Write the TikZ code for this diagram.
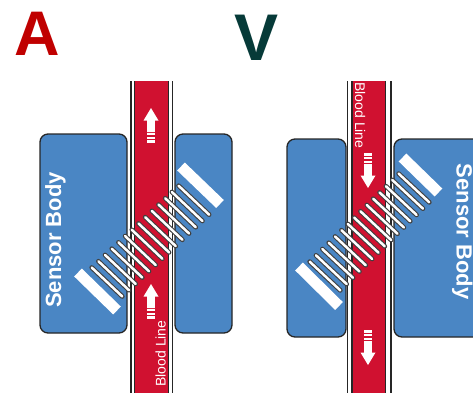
\documentclass[tikz,border=0pt]{standalone}
\usepackage{fontspec}
\setmainfont{Liberation Sans}
\definecolor{boxblue}{RGB}{74,134,196}
\definecolor{bloodred}{RGB}{208,17,48}
\definecolor{letterred}{RGB}{192,0,0}
\definecolor{letterteal}{RGB}{6,58,56}
\begin{document}
\begin{tikzpicture}[x=1pt,y=-1pt,
  box/.style={draw=black!85, line width=1.3pt, fill=boxblue, rounded corners=8pt},
  wall/.style={draw=black!85, line width=1.2pt},
  bar/.style={draw=white, line width=11pt},
  winding/.style={draw=black!75, line width=1.1pt, double=white, double distance=2.5pt, line cap=round},
  panel/.style={font=\bfseries\fontsize{63}{63}\selectfont, inner sep=0pt},
  bodylabel/.style={text=white, font=\bfseries\fontsize{22}{22}\selectfont, inner sep=0pt},
  linelabel/.style={text=white, font=\fontsize{14}{14}\selectfont, inner sep=0pt},
  flowarrow/.pic={
    \fill[white] (0,0) -- (7.5,12.5) -- (3.8,12.5) -- (3.8,24) -- (-3.8,24)
      -- (-3.8,12.5) -- (-7.5,12.5) -- cycle;
    \fill[white] (-3.8,25.3) rectangle (3.8,27.3);
    \fill[white] (-3.8,28.6) rectangle (3.8,30.6);
    \fill[white] (-3.8,31.9) rectangle (3.8,35);
  }]
\useasboundingbox (0,0) rectangle (473,392);
\clip (0,0) rectangle (473,392);

% panel letters
\node[panel, text=letterred, anchor=base] (letterA) at (37.5,55) {A};
\node[panel, text=letterteal, anchor=base, font=\bfseries\fontsize{66}{66}\selectfont] (letterV) at (256.5,60) {V};

% ---------- panel A ----------
\node[box, minimum width=87pt, minimum height=199pt] (bodyAL) at (83.5,233.5) {};
\node[box, minimum width=57pt, minimum height=199pt] (bodyAR) at (203.5,233.5) {};
% blood line tube
\fill[white] (131,81) rectangle (172.5,400);
\draw[wall] (131,81) -- (131,400) (172.5,81) -- (172.5,400);
\fill[bloodred] (134.5,81) rectangle (168.5,400);
\draw[wall] (134.5,81) -- (134.5,400) (168.5,81) -- (168.5,400);
\pic (flowA1) at (151,108) {flowarrow};
\pic (flowA2) at (151,284) {flowarrow};
\node[linelabel, rotate=90, anchor=base] (lineA) at (165.5,353.5) {Blood Line};
% transducer plates
\draw[bar] (78,272.5) -- (117,310.5);
\draw[bar] (181,166.5) -- (220,204);
% coil windings
\begin{scope}[shift={(107,282)}, rotate=43.3]
  \foreach \k in {0,...,13}
    \draw[winding] ({9.18*\k-1.2},-21) -- ({9.18*\k+1.2},21);
\end{scope}
\node[bodylabel, rotate=90, anchor=base] (sensorA) at (61,240) {Sensor Body};

% ---------- panel V ----------
\node[box, minimum width=59pt, minimum height=198pt] (bodyVL) at (316.5,238) {};
\node[box, minimum width=96pt, minimum height=198pt] (bodyVR) at (442,238) {};
\fill[white] (347.5,81) rectangle (391,400);
\draw[wall] (347.5,81) -- (347.5,400) (391,81) -- (391,400);
\fill[bloodred] (352,81) rectangle (385.5,400);
\draw[wall] (352,81) -- (352,400) (385.5,81) -- (385.5,400);
\pic[rotate=180] (flowV1) at (368,188) {flowarrow};
\pic[rotate=180] (flowV2) at (368,365) {flowarrow};
\node[linelabel, rotate=-90, anchor=base] (lineV) at (355,115.5) {Blood Line};
\draw[bar] (299,266.5) -- (339,306);
\draw[bar] (402.5,157.5) -- (438.5,192.5);
\begin{scope}[shift={(325,276)}, rotate=44.7]
  \foreach \k in {0,...,14}
    \draw[winding] ({8.94*\k-0.8},-21) -- ({8.94*\k+0.8},21);
\end{scope}
\node[bodylabel, rotate=-90, anchor=base] (sensorV) at (456.5,231.5) {Sensor Body};
\end{tikzpicture}
\end{document}
